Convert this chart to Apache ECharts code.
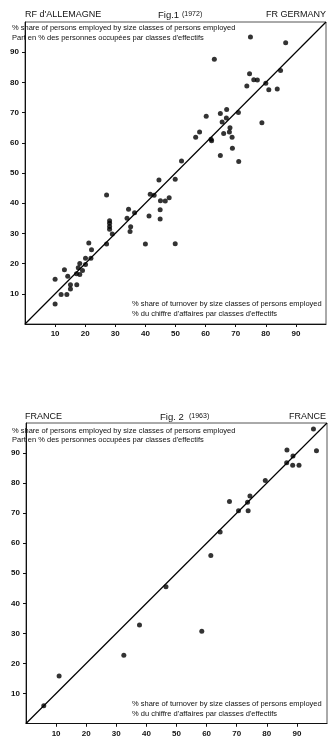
<!DOCTYPE html>
<html>
<head>
    <meta charset="utf-8">
    <title>Fig.1 / Fig.2</title>
    <script src="https://cdn.jsdelivr.net/npm/echarts@6/dist/echarts.min.js"></script>
    <style>
        body { margin: 0; background: #fff; }
    </style>
</head>
<body>
    <div id="chartmain" style="width:331px; height:750px;"></div>
    <script type="text/javascript">
        // tick labels on both axes
        var ticks = [10, 20, 30, 40, 50, 60, 70, 80, 90];

        // Fig.1 RF d'ALLEMAGNE (1972): x = % turnover, y = % persons employed
        var germanyTurnover = [10, 10, 12, 13.1, 14.2, 13.9, 15.1, 15.1, 17.1, 17.2, 17.7, 18.2, 18.2, 19.1, 20.1, 20.1,
            21.2, 22.1, 21.9, 27.1, 27.1, 28.1, 28.1, 28.1, 28.1, 29, 33.9, 34.4, 35.1, 34.9, 36.4, 40, 41.2, 41.6,
            42.9, 44.5, 45, 44.9, 44.9, 46.6, 47.9, 49.9, 49.9, 52, 71, 64.9, 68.9, 68.8, 66, 62, 61.8, 67.9, 68.1,
            56.7, 58, 78.7, 66.9, 65.5, 60.2, 67, 64.9, 70.9, 81, 83.8, 73.7, 80, 77.2, 76, 84.9, 74.6, 62.9, 86.6, 74.9];
        var germanyEmployed = [14.8, 6.6, 9.8, 18, 15.8, 9.8, 13, 11.6, 16.6, 13, 18.6, 20, 16.4, 17.7, 19.7, 21.8,
            26.8, 24.6, 21.8, 42.7, 26.5, 34.2, 33.4, 32.3, 31.4, 29.8, 35, 38, 32.2, 30.6, 36.8, 26.5, 35.8, 43,
            42.6, 47.7, 40.8, 37.8, 34.8, 40.7, 41.8, 47.9, 26.6, 54, 53.8, 55.8, 58.2, 61.8, 63.1, 60.7, 61.2, 63.6, 65,
            61.8, 63.6, 66.6, 68.2, 66.9, 68.8, 71, 69.7, 70, 77.6, 77.8, 78.8, 79.7, 80.8, 80.9, 83.9, 82.9, 87.7, 93.1, 95];

        // Fig.2 FRANCE (1963)
        var franceTurnover = [5.9, 11, 32.5, 37.7, 46.5, 58.4, 95.5, 96.5, 86.7, 88.7, 86.6, 88.6, 90.7, 79.5, 74.4,
            73.6, 70.6, 73.8, 67.6, 64.5, 61.4];
        var franceEmployed = [5.9, 15.8, 22.7, 32.8, 45.5, 30.7, 98, 90.8, 91, 89, 86.8, 85.9, 85.9, 80.9, 75.7,
            73.6, 70.8, 70.8, 73.9, 63.7, 55.9];

        var diagonal = [[0, 0], [100, 100]];

        function zip(xs, ys) {
            return xs.map(function (x, i) { return [x, ys[i]]; });
        }

        var FONT = '"Liberation Sans", Arial, sans-serif';
        var INK = '#111';

        function makeAxis(gridIndex, inner) {
            return {
                type: 'value', gridIndex: gridIndex, min: 0, max: 100, interval: 10,
                axisLine: { show: !inner, lineStyle: { color: INK, width: 1 } },
                axisTick: { show: true, inside: inner, length: 3, customValues: ticks, lineStyle: { color: INK } },
                axisLabel: {
                    show: !inner, customValues: ticks, color: INK, fontSize: 8, fontWeight: 'bold',
                    fontFamily: FONT, margin: 6,
                    formatter: function (v) { return (v > 0 && v < 100) ? v : ''; }
                },
                splitLine: { show: false }
            };
        }

        function txt(x, y, text, size, align) {
            return {
                type: 'text', x: x, y: y, silent: true,
                style: {
                    text: text, fill: INK, textAlign: align || 'left', textVerticalAlign: 'middle',
                    font: size + 'px ' + FONT
                }
            };
        }

        var option = {
            animation: false,
            grid: [
                { left: 25, top: 22, width: 301, height: 302, show: true, borderColor: '#555', borderWidth: 1, backgroundColor: 'transparent' },
                { left: 26, top: 423, width: 301, height: 300.5, show: true, borderColor: '#555', borderWidth: 1, backgroundColor: 'transparent' }
            ],
            xAxis: [makeAxis(0, false), makeAxis(0, true), makeAxis(1, false), makeAxis(1, true)],
            yAxis: [makeAxis(0, false), makeAxis(0, true), makeAxis(1, false), makeAxis(1, true)],
            series: [
                {
                    type: 'line', xAxisIndex: 0, yAxisIndex: 0, data: diagonal, symbol: 'none',
                    lineStyle: { color: '#000', width: 1.2 }
                },
                {
                    type: 'scatter', xAxisIndex: 0, yAxisIndex: 0, data: zip(germanyTurnover, germanyEmployed),
                    symbolSize: 5, itemStyle: { color: '#000' }
                },
                {
                    type: 'line', xAxisIndex: 2, yAxisIndex: 2, data: diagonal, symbol: 'none',
                    lineStyle: { color: '#000', width: 1.2 }
                },
                {
                    type: 'scatter', xAxisIndex: 2, yAxisIndex: 2, data: zip(franceTurnover, franceEmployed),
                    symbolSize: 5, itemStyle: { color: '#000' }
                }
            ],
            graphic: [
                // Fig.1 headings
                txt(25, 15, "RF d'ALLEMAGNE", 9),
                txt(158, 15, 'Fig.1', 9.5),
                txt(182, 14, '(1972)', 7),
                txt(326, 15, 'FR GERMANY', 9, 'right'),
                txt(12, 28, '% share of persons employed by size classes of persons employed', 7.5),
                txt(12, 37.5, "Part en % des personnes occupées par classes d'effectifs", 7.5),
                txt(132, 304, '% share of turnover by size classes of persons employed', 7.5),
                txt(132, 313.5, "% du chiffre d'affaires par classes d'effectifs", 7.5),
                // Fig.2 headings
                txt(25, 417, 'FRANCE', 9),
                txt(160, 417, 'Fig. 2', 9.5),
                txt(189, 416, '(1963)', 7),
                txt(326, 417, 'FRANCE', 9, 'right'),
                txt(12, 431, '% share of persons employed by size classes of persons employed', 7.5),
                txt(12, 440, "Part en % des personnes occupées par classes d'effectifs", 7.5),
                txt(132, 704, '% share of turnover by size classes of persons employed', 7.5),
                txt(132, 713.5, "% du chiffre d'affaires par classes d'effectifs", 7.5)
            ]
        };

        var myChart = echarts.init(document.getElementById('chartmain'));
        myChart.setOption(option);
    </script>
</body>
</html>
